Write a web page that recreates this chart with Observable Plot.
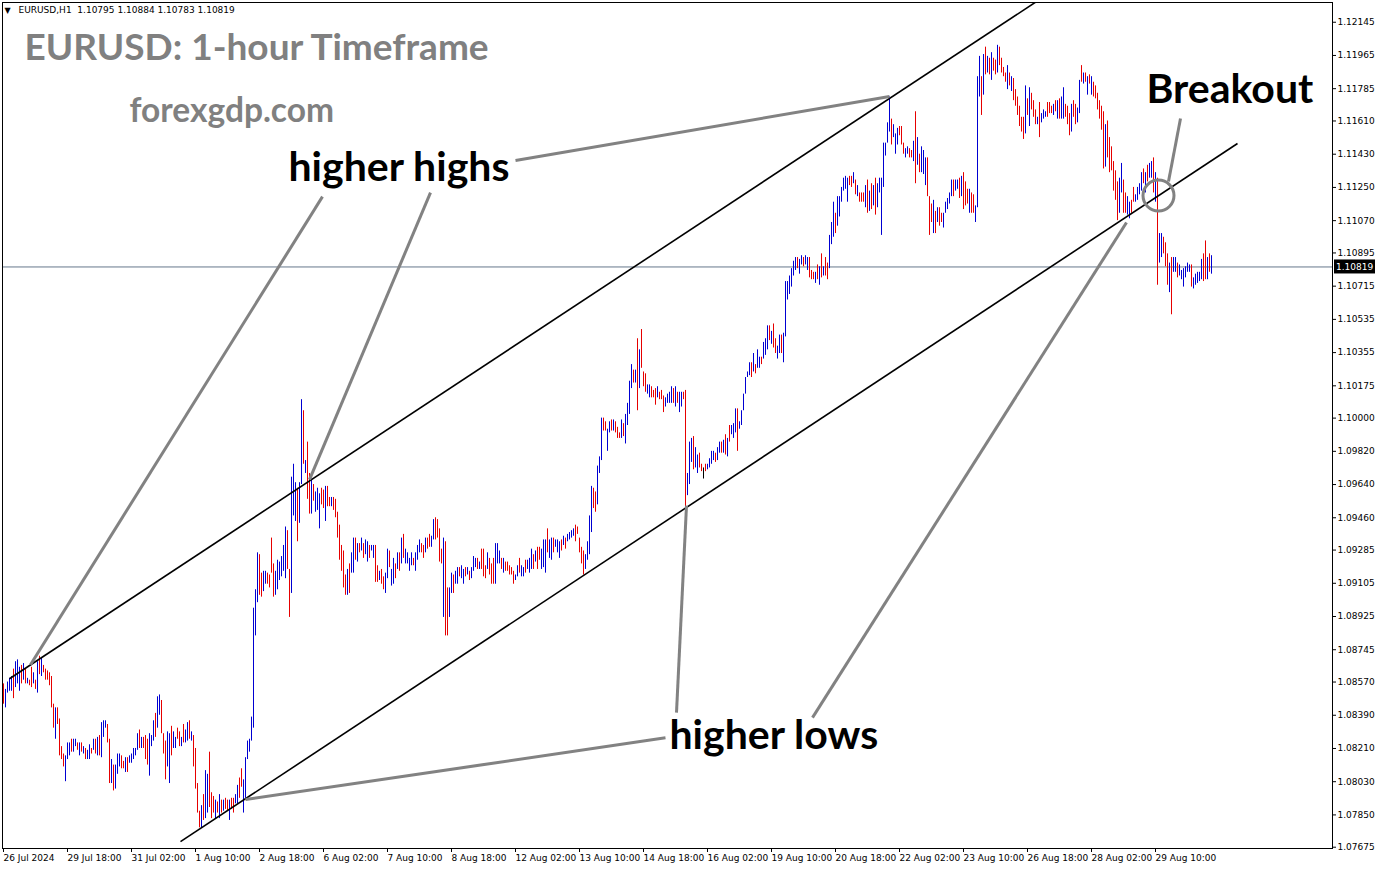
<!DOCTYPE html>
<html><head><meta charset="utf-8">
<script src="https://cdn.jsdelivr.net/npm/d3@7"></script>
<script src="https://cdn.jsdelivr.net/npm/@observablehq/plot@0.6"></script>
<style>html,body{margin:0;padding:0;background:#fff;overflow:hidden}</style>
</head><body><div id="chart"></div>
<script>
// Hourly EURUSD bars (index 0 = 26 Jul 2024 10:00), highs / lows
const highs = [
1.0856,1.0853,1.0857,1.0859,1.0860,1.0864,1.0868,1.0869,1.0865,1.0866,
1.0867,1.0864,1.0859,1.0858,1.0865,1.0862,1.0858,1.0868,1.0871,1.0870,
1.0866,1.0864,1.0863,1.0862,1.0860,1.0845,1.0843,1.0843,1.0837,1.0822,
1.0818,1.0817,1.0824,1.0824,1.0826,1.0826,1.0826,1.0824,1.0824,1.0824,
1.0822,1.0821,1.0820,1.0823,1.0821,1.0826,1.0826,1.0827,1.0828,1.0835,
1.0836,1.0836,1.0834,1.0826,1.0815,1.0812,1.0812,1.0818,1.0818,1.0817,
1.0814,1.0816,1.0816,1.0817,1.0818,1.0821,1.0821,1.0829,1.0831,1.0827,
1.0827,1.0828,1.0826,1.0829,1.0828,1.0836,1.0840,1.0849,1.0850,1.0847,
1.0829,1.0825,1.0830,1.0829,1.0833,1.0830,1.0827,1.0832,1.0830,1.0827,
1.0834,1.0831,1.0835,1.0836,1.0830,1.0828,1.0821,1.0802,1.0787,1.0790,
1.0796,1.0809,1.0807,1.0819,1.0797,1.0795,1.0793,1.0792,1.0796,1.0793,
1.0793,1.0794,1.0793,1.0793,1.0794,1.0794,1.0796,1.0801,1.0805,1.0810,
1.0804,1.0816,1.0825,1.0826,1.0838,1.0897,1.0907,1.0927,1.0926,1.0916,
1.0917,1.0917,1.0916,1.0915,1.0935,1.0921,1.0917,1.0923,1.0922,1.0925,
1.0931,1.0941,1.0939,1.0918,1.0968,1.0975,1.0965,1.0962,1.0965,1.1010,
1.1004,1.0977,1.0987,1.0970,1.0967,1.0964,1.0960,1.0962,1.0959,1.0962,
1.0961,1.0963,1.0963,1.0957,1.0957,1.0957,1.0956,1.0949,1.0942,1.0931,
1.0928,1.0915,1.0918,1.0921,1.0927,1.0935,1.0935,1.0932,1.0932,1.0935,
1.0932,1.0934,1.0933,1.0931,1.0931,1.0931,1.0931,1.0920,1.0917,1.0918,
1.0914,1.0916,1.0929,1.0928,1.0918,1.0924,1.0921,1.0927,1.0927,1.0935,
1.0937,1.0929,1.0927,1.0924,1.0927,1.0924,1.0927,1.0931,1.0934,1.0932,
1.0931,1.0935,1.0935,1.0937,1.0936,1.0945,1.0946,1.0945,1.0940,1.0929,
1.0935,1.0933,1.0908,1.0908,1.0916,1.0915,1.0917,1.0919,1.0919,1.0920,
1.0918,1.0919,1.0919,1.0917,1.0919,1.0925,1.0924,1.0924,1.0922,1.0929,
1.0929,1.0920,1.0927,1.0924,1.0921,1.0924,1.0932,1.0932,1.0928,1.0924,
1.0924,1.0922,1.0922,1.0920,1.0919,1.0917,1.0915,1.0920,1.0924,1.0920,
1.0919,1.0923,1.0923,1.0924,1.0929,1.0926,1.0928,1.0930,1.0930,1.0929,
1.0934,1.0934,1.0940,1.0934,1.0935,1.0935,1.0934,1.0934,1.0933,1.0934,
1.0936,1.0935,1.0937,1.0938,1.0939,1.0940,1.0942,1.0941,1.0935,1.0930,
1.0928,1.0926,1.0933,1.0947,1.0963,1.0962,1.0960,1.0974,1.0979,1.1000,
1.1000,1.0998,1.0994,1.0998,1.0999,1.0999,1.0998,1.0995,1.0992,1.0999,
1.0997,1.1002,1.1008,1.1020,1.1029,1.1026,1.1026,1.1043,1.1037,1.1048,
1.1025,1.1024,1.1018,1.1018,1.1017,1.1015,1.1016,1.1017,1.1014,1.1015,
1.1012,1.1011,1.1013,1.1014,1.1017,1.1016,1.1017,1.1014,1.1014,1.1014,
1.1014,1.1015,1.0970,1.0987,1.0989,1.0990,1.0984,1.0980,1.0981,1.0975,
1.0973,1.0975,1.0975,1.0978,1.0982,1.0982,1.0981,1.0984,1.0987,1.0987,
1.0988,1.0991,1.0989,1.0996,1.0996,1.0997,1.1005,1.1005,1.0998,1.1004,
1.1013,1.1022,1.1025,1.1030,1.1030,1.1035,1.1029,1.1037,1.1033,1.1033,
1.1041,1.1043,1.1050,1.1050,1.1047,1.1051,1.1043,1.1039,1.1045,1.1045,
1.1046,1.1074,1.1074,1.1077,1.1081,1.1085,1.1087,1.1087,1.1086,1.1088,
1.1087,1.1088,1.1087,1.1087,1.1080,1.1079,1.1079,1.1083,1.1082,1.1089,
1.1082,1.1087,1.1084,1.1099,1.1106,1.1117,1.1111,1.1120,1.1120,1.1125,
1.1130,1.1131,1.1130,1.1131,1.1131,1.1133,1.1129,1.1126,1.1122,1.1122,
1.1122,1.1126,1.1129,1.1123,1.1127,1.1126,1.1130,1.1127,1.1130,1.1130,
1.1149,1.1149,1.1160,1.1174,1.1162,1.1159,1.1154,1.1157,1.1158,1.1158,
1.1149,1.1146,1.1147,1.1146,1.1145,1.1150,1.1166,1.1152,1.1143,1.1147,
1.1145,1.1141,1.1141,1.1120,1.1116,1.1118,1.1112,1.1114,1.1114,1.1111,
1.1111,1.1117,1.1119,1.1122,1.1129,1.1129,1.1129,1.1129,1.1130,1.1131,
1.1133,1.1128,1.1124,1.1124,1.1122,1.1121,1.1115,1.1185,1.1196,1.1185,
1.1197,1.1201,1.1196,1.1195,1.1198,1.1195,1.1194,1.1202,1.1201,1.1195,
1.1190,1.1187,1.1191,1.1187,1.1185,1.1184,1.1178,1.1174,1.1169,1.1163,
1.1163,1.1180,1.1173,1.1179,1.1176,1.1172,1.1167,1.1163,1.1171,1.1165,
1.1167,1.1166,1.1171,1.1171,1.1169,1.1170,1.1172,1.1172,1.1173,1.1174,
1.1179,1.1170,1.1169,1.1165,1.1170,1.1172,1.1170,1.1168,1.1183,1.1191,
1.1187,1.1187,1.1185,1.1186,1.1185,1.1182,1.1180,1.1176,1.1172,1.1169,
1.1166,1.1159,1.1161,1.1152,1.1147,1.1139,1.1134,1.1128,1.1130,1.1138,
1.1129,1.1122,1.1120,1.1117,1.1118,1.1125,1.1121,1.1125,1.1127,1.1133,
1.1135,1.1133,1.1137,1.1138,1.1139,1.1141,1.1133,1.1130,1.1100,1.1100,
1.1098,1.1095,1.1089,1.1084,1.1087,1.1087,1.1087,1.1084,1.1083,1.1080,
1.1081,1.1082,1.1084,1.1083,1.1083,1.1076,1.1078,1.1079,1.1079,1.1086,
1.1089,1.1096,1.1087,1.1089,1.1088];
const lows = [
1.0845,1.0843,1.0851,1.0852,1.0852,1.0848,1.0854,1.0856,1.0852,1.0856,
1.0858,1.0856,1.0856,1.0855,1.0854,1.0856,1.0853,1.0851,1.0861,1.0860,
1.0862,1.0858,1.0858,1.0855,1.0843,1.0832,1.0826,1.0834,1.0817,1.0815,
1.0811,1.0803,1.0815,1.0817,1.0819,1.0819,1.0822,1.0820,1.0817,1.0819,
1.0818,1.0815,1.0815,1.0815,1.0818,1.0820,1.0818,1.0817,1.0817,1.0816,
1.0827,1.0832,1.0824,1.0802,1.0802,1.0798,1.0799,1.0807,1.0811,1.0810,
1.0810,1.0808,1.0808,1.0813,1.0813,1.0815,1.0817,1.0820,1.0821,1.0821,
1.0821,1.0815,1.0812,1.0806,1.0822,1.0825,1.0827,1.0832,1.0839,1.0829,
1.0818,1.0804,1.0811,1.0802,1.0817,1.0821,1.0821,1.0826,1.0822,1.0822,
1.0824,1.0824,1.0825,1.0826,1.0825,1.0811,1.0799,1.0786,1.0778,1.0778,
1.0782,1.0783,1.0786,1.0789,1.0783,1.0786,1.0783,1.0786,1.0783,1.0786,
1.0787,1.0788,1.0787,1.0782,1.0788,1.0786,1.0791,1.0791,1.0794,1.0800,
1.0786,1.0794,1.0815,1.0819,1.0825,1.0832,1.0882,1.0900,1.0904,1.0903,
1.0906,1.0910,1.0910,1.0908,1.0916,1.0903,1.0904,1.0907,1.0912,1.0914,
1.0917,1.0913,1.0918,1.0892,1.0905,1.0947,1.0944,1.0933,1.0943,1.0964,
1.0975,1.0970,1.0956,1.0948,1.0948,1.0955,1.0949,1.0950,1.0940,1.0953,
1.0951,1.0944,1.0952,1.0952,1.0952,1.0950,1.0946,1.0935,1.0923,1.0917,
1.0908,1.0904,1.0904,1.0905,1.0916,1.0916,1.0923,1.0922,1.0927,1.0928,
1.0924,1.0926,1.0922,1.0924,1.0928,1.0924,1.0911,1.0911,1.0912,1.0910,
1.0907,1.0905,1.0913,1.0919,1.0909,1.0910,1.0913,1.0918,1.0917,1.0921,
1.0924,1.0921,1.0921,1.0917,1.0920,1.0920,1.0917,1.0923,1.0927,1.0927,
1.0924,1.0927,1.0929,1.0930,1.0930,1.0934,1.0934,1.0935,1.0922,1.0921,
1.0892,1.0882,1.0882,1.0892,1.0905,1.0905,1.0910,1.0910,1.0914,1.0913,
1.0910,1.0914,1.0915,1.0912,1.0913,1.0917,1.0919,1.0918,1.0918,1.0918,
1.0914,1.0913,1.0918,1.0915,1.0910,1.0910,1.0910,1.0921,1.0921,1.0918,
1.0916,1.0917,1.0917,1.0915,1.0915,1.0910,1.0912,1.0914,1.0916,1.0914,
1.0914,1.0916,1.0918,1.0916,1.0918,1.0918,1.0922,1.0918,1.0923,1.0918,
1.0919,1.0916,1.0927,1.0924,1.0923,1.0927,1.0930,1.0927,1.0924,1.0928,
1.0931,1.0929,1.0933,1.0934,1.0935,1.0936,1.0933,1.0937,1.0927,1.0921,
1.0915,1.0918,1.0923,1.0926,1.0938,1.0951,1.0949,1.0953,1.0970,1.0977,
1.0993,1.0993,1.0982,1.0992,1.0993,1.0993,1.0992,1.0989,1.0989,1.0989,
1.0990,1.0986,1.0996,1.1002,1.1016,1.1019,1.1019,1.1004,1.1016,1.1027,
1.1017,1.1014,1.1013,1.1011,1.1011,1.1011,1.1007,1.1011,1.1010,1.1010,
1.1003,1.1006,1.1008,1.1008,1.1008,1.1008,1.1006,1.1008,1.1003,1.1006,
1.1010,1.0951,1.0958,1.0964,1.0976,1.0972,1.0973,1.0970,1.0973,1.0971,
1.0967,1.0971,1.0972,1.0973,1.0975,1.0977,1.0976,1.0977,1.0981,1.0981,
1.0981,1.0980,1.0979,1.0987,1.0991,1.0989,1.0992,1.0982,1.0994,1.0996,
1.1004,1.1013,1.1022,1.1023,1.1022,1.1025,1.1024,1.1027,1.1027,1.1029,
1.1032,1.1034,1.1037,1.1042,1.1040,1.1038,1.1035,1.1032,1.1035,1.1035,
1.1030,1.1044,1.1064,1.1067,1.1071,1.1077,1.1080,1.1081,1.1078,1.1083,
1.1082,1.1083,1.1080,1.1076,1.1075,1.1075,1.1073,1.1075,1.1072,1.1076,
1.1077,1.1077,1.1075,1.1081,1.1094,1.1098,1.1100,1.1104,1.1109,1.1117,
1.1123,1.1124,1.1117,1.1126,1.1125,1.1127,1.1121,1.1120,1.1117,1.1117,
1.1117,1.1114,1.1111,1.1112,1.1113,1.1115,1.1110,1.1114,1.1122,1.1099,
1.1125,1.1142,1.1149,1.1155,1.1148,1.1152,1.1143,1.1148,1.1153,1.1148,
1.1143,1.1141,1.1143,1.1141,1.1141,1.1139,1.1127,1.1137,1.1133,1.1133,
1.1132,1.1126,1.1120,1.1099,1.1106,1.1100,1.1100,1.1106,1.1104,1.1106,
1.1103,1.1111,1.1113,1.1116,1.1120,1.1120,1.1123,1.1124,1.1119,1.1120,
1.1113,1.1115,1.1116,1.1111,1.1111,1.1111,1.1106,1.1114,1.1174,1.1164,
1.1175,1.1186,1.1187,1.1186,1.1183,1.1188,1.1186,1.1187,1.1191,1.1187,
1.1185,1.1182,1.1178,1.1180,1.1177,1.1172,1.1169,1.1164,1.1158,1.1155,
1.1151,1.1154,1.1164,1.1158,1.1167,1.1163,1.1159,1.1159,1.1152,1.1160,
1.1162,1.1163,1.1163,1.1165,1.1165,1.1164,1.1166,1.1162,1.1162,1.1162,
1.1162,1.1163,1.1159,1.1153,1.1155,1.1163,1.1159,1.1160,1.1165,1.1182,
1.1181,1.1182,1.1175,1.1181,1.1175,1.1174,1.1173,1.1167,1.1162,1.1156,
1.1135,1.1136,1.1141,1.1133,1.1134,1.1123,1.1118,1.1107,1.1111,1.1122,
1.1111,1.1111,1.1110,1.1108,1.1111,1.1117,1.1117,1.1118,1.1121,1.1123,
1.1127,1.1122,1.1128,1.1130,1.1130,1.1122,1.1117,1.1072,1.1084,1.1087,
1.1089,1.1082,1.1072,1.1068,1.1056,1.1079,1.1079,1.1076,1.1077,1.1075,
1.1071,1.1076,1.1079,1.1079,1.1071,1.1070,1.1072,1.1073,1.1074,1.1075,
1.1074,1.1075,1.1075,1.1079,1.1078];
// bar direction: B = up (blue), R = down (red), K = unchanged (black)
const dirs =
"RBBBBRBBBR"+"BRBRRBRBRB"+"RRRRRRBRRR"+"RBBBRBBRBR"+"BRBBRBRBRB"+"BBRRBRBBBR"+
"RBRBBBBBRB"+"RRRBBBRBBR"+"RRBBRBBRRB"+"RBBRBRRRRB"+"RBBRRRBRBR"+"BRRBRRBBRR"+
"BBBBBBBBRR"+"BBRRRRBBBB"+"BBRRBBBRBB"+"RBRRBRBBBR"+"RBRRBRRRRR"+"RRBRBBRBRB"+
"RBBRBBRRBR"+"RBBRBBRBRB"+"RBBBBRBBBR"+"RBRRBBRRRR"+"BRRBBRBBRB"+"BRBRBBBRBR"+
"RRBRRRBBBR"+"BRRRRRBBRB"+"BRBBBRBRRB"+"BBRBBRBBBR"+"BRBBBBRRRR"+"RBBBBRRBBB"+
"RRBBRBRRRB"+"RBBBBRBRBR"+"RRBBRRRBRR"+"RBBBBRBRBB"+"RRBBBRBBRR"+"KRBBBBRBBR"+
"BRBRBBBRBB"+"BBBBRBRBBR"+"BBBRBRRBBR"+"BBBBBBBRBB"+"RBBRRRBRBR"+"BRRBBBRBBB"+
"BBBRRBRBRR"+"RBRBRBRBBB"+"BBBBRBBBRR"+"RBBRRBRBRB"+"BBRRRBRBRR"+"BBBBBRBBRB"+
"RRRBRRBBBR"+"BRBRBRRBRR"+"RRBRBRRRRR"+"RBRBRRRBRB"+"BBRRRBRBRB"+"BRRRBRRBBR"+
"BRBRBRRRRR"+"RBRRRRRRBB"+"RRBBRRBBBB"+"RBRBBRBRBB"+"RRRBRBBRBB"+"BBBBRBBBBB"+"RRBRB";

const timeTickIndex = [0,32,64,96,128,160,192,224,256,288,320,352,384,416,448,480,512,544,576];
const timeTickLabels = ["26 Jul 2024","29 Jul 18:00","31 Jul 02:00","1 Aug 10:00","2 Aug 18:00",
 "6 Aug 02:00","7 Aug 10:00","8 Aug 18:00","12 Aug 02:00","13 Aug 10:00","14 Aug 18:00",
 "16 Aug 02:00","19 Aug 10:00","20 Aug 18:00","22 Aug 02:00","23 Aug 10:00","26 Aug 18:00",
 "28 Aug 02:00","29 Aug 10:00"];
const priceTicks = [1.12145,1.11965,1.11785,1.11610,1.11430,1.11250,1.11070,1.10895,1.10715,
 1.10535,1.10355,1.10175,1.10000,1.09820,1.09640,1.09460,1.09285,1.09105,1.08925,1.08745,
 1.08570,1.08390,1.08210,1.08030,1.07850,1.07675];
const lastBar = {open: 1.10795, high: 1.10884, low: 1.10783, close: 1.10819};
const priceDomain = [1.07668, 1.12252];
const barCount = 665;

// chart objects anchored at (bar index, price)
const channelLines = [
  {i1: 3, p1: 1.08588, i2: 520, p2: 1.12282},
  {i1: 88.5, p1: 1.07705, i2: 617, p2: 1.11488}
];
const pointerLines = [
  {i1: 159.5, p1: 1.11200, i2: 13.5, p2: 1.08664},
  {i1: 213.5, p1: 1.11222, i2: 153, p2: 1.09667},
  {i1: 256, p1: 1.11396, i2: 443, p2: 1.11743},
  {i1: 331, p1: 1.08268, i2: 121, p2: 1.07933},
  {i1: 336.5, p1: 1.08404, i2: 341.5, p2: 1.09526},
  {i1: 404.5, p1: 1.08377, i2: 561.5, p2: 1.11060},
  {i1: 588.5, p1: 1.11623, i2: 582.5, p2: 1.11282}
];
const breakoutCircle = [{i: 577.5, p: 1.11206}];
const notes = [
  {text: "higher highs", i: 142.5, p: 1.11443},
  {text: "higher lows", i: 333, p: 1.08365},
  {text: "Breakout", i: 571.5, p: 1.11866}
];

const bars = highs.map((h, i) => ({i, high: h, low: lows[i], dir: dirs[i]}));
const barColor = {B: "#0000d2", R: "#e60000", K: "#000000"};
const fmt5 = d3.format(".5f");

const chart = Plot.plot({
  width: 1377, height: 870,
  marginLeft: 2, marginRight: 45, marginTop: 2, marginBottom: 22,
  style: {fontFamily: "'DejaVu Sans', sans-serif", fontSize: "9px", color: "black", background: "white"},
  x: {domain: [-0.5, barCount - 0.5], axis: null},
  y: {domain: priceDomain, axis: null},
  marks: [
    Plot.ruleY([lastBar.close], {stroke: "#66788b", strokeWidth: 1}),
    Plot.ruleX(bars, {x: "i", y1: "low", y2: "high", stroke: d => barColor[d.dir], strokeWidth: 1}),
    Plot.link(channelLines, {x1: "i1", y1: "p1", x2: "i2", y2: "p2", stroke: "black", strokeWidth: 1.6, clip: true}),
    Plot.link(pointerLines, {x1: "i1", y1: "p1", x2: "i2", y2: "p2", stroke: "#828282", strokeWidth: 3}),
    Plot.dot(breakoutCircle, {x: "i", y: "p", r: 15.5, stroke: "#828282", strokeWidth: 3, fill: "none"}),
    Plot.text(notes, {x: "i", y: "p", text: "text", textAnchor: "start", lineAnchor: "top",
      fontFamily: "Lato", fontWeight: "bold", fontSize: 41, fill: "black"}),
    Plot.text(["EURUSD: 1-hour Timeframe"], {frameAnchor: "top-left", dx: 22, dy: 31.7, textAnchor: "start",
      lineAnchor: "top", fontFamily: "Lato", fontWeight: "bold", fontSize: 37, fill: "#808080"}),
    Plot.text(["forexgdp.com"], {frameAnchor: "top-left", dx: 127, dy: 96.2, textAnchor: "start",
      lineAnchor: "top", fontFamily: "Lato", fontWeight: "bold", fontSize: 33.5, fill: "#808080"}),
    Plot.text(["▼"], {frameAnchor: "top-left", dx: 2, dy: 8, textAnchor: "start", lineAnchor: "middle", fontSize: 8, fill: "black"}),
    Plot.text([`EURUSD,H1  ${fmt5(lastBar.open)} ${fmt5(lastBar.high)} ${fmt5(lastBar.low)} ${fmt5(lastBar.close)}`],
      {frameAnchor: "top-left", dx: 16, dy: 8, textAnchor: "start", lineAnchor: "middle", fontSize: 9, fill: "black"}),
    Plot.frame({stroke: "black"}),
    Plot.axisY(priceTicks, {anchor: "right", tickFormat: fmt5, tickSize: 3, tickPadding: 2, fontSize: 9}),
    Plot.axisX(timeTickIndex, {anchor: "bottom", tickFormat: (d) => timeTickLabels[timeTickIndex.indexOf(d)],
      textAnchor: "start", tickSize: 4, tickPadding: 2, fontSize: 9})
  ]
});
document.getElementById("chart").appendChild(chart);

// current-price tag on the price axis
const ys = chart.scale("y");
const svg = d3.select(chart);
const tagY = ys.apply(lastBar.close);
const tag = svg.append("g");
tag.append("rect").attr("x", 1334).attr("y", tagY - 7).attr("width", 41).attr("height", 14).attr("fill", "black");
tag.append("text").attr("x", 1336).attr("y", tagY).attr("dy", "0.35em").attr("fill", "white")
  .attr("text-anchor", "start").attr("font-family", "DejaVu Sans").attr("font-size", 9).text(fmt5(lastBar.close));
</script></body></html>
